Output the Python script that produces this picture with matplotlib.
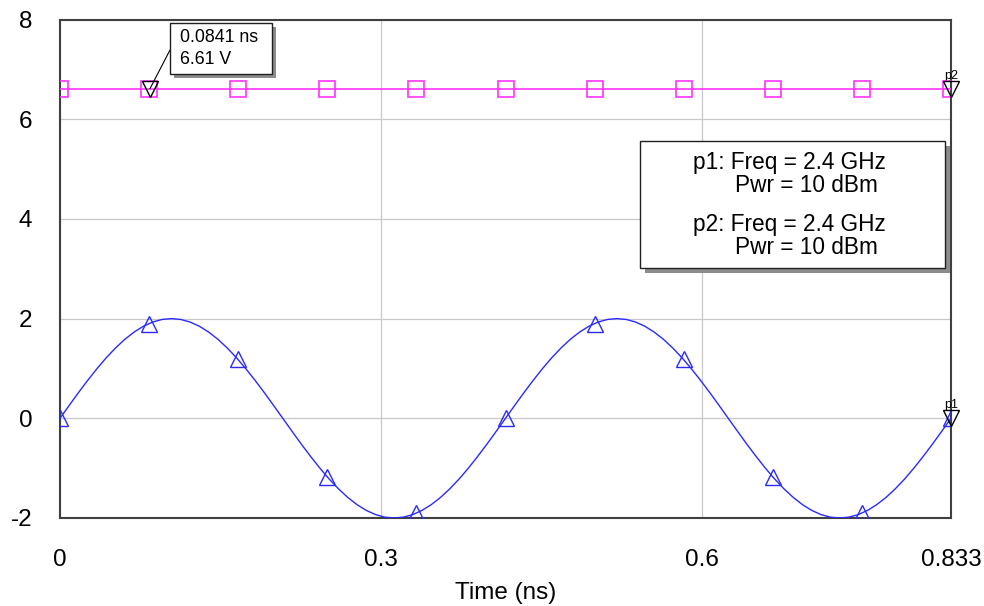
import matplotlib
matplotlib.use("Agg")
import matplotlib.pyplot as plt
from matplotlib.patches import Rectangle
import numpy as np

plt.rcParams['font.family'] = ['Liberation Sans', 'DejaVu Sans']
plt.rcParams['axes.unicode_minus'] = False

# trace p1: port voltage, 97 samples over 0..0.8333 ns
p1_v = [0, 0.261, 0.518, 0.765, 1.0, 1.218, 1.414, 1.587, 1.732, 1.848, 1.932, 1.983,
        2.0, 1.983, 1.932, 1.848, 1.732, 1.587, 1.414, 1.218, 1.0, 0.765, 0.518, 0.261,
        0, -0.261, -0.518, -0.765, -1.0, -1.218, -1.414, -1.587, -1.732, -1.848, -1.932, -1.983,
        -2.0, -1.983, -1.932, -1.848, -1.732, -1.587, -1.414, -1.218, -1.0, -0.765, -0.518, -0.261,
        0, 0.261, 0.518, 0.765, 1.0, 1.218, 1.414, 1.587, 1.732, 1.848, 1.932, 1.983,
        2.0, 1.983, 1.932, 1.848, 1.732, 1.587, 1.414, 1.218, 1.0, 0.765, 0.518, 0.261,
        0, -0.261, -0.518, -0.765, -1.0, -1.218, -1.414, -1.587, -1.732, -1.848, -1.932, -1.983,
        -2.0, -1.983, -1.932, -1.848, -1.732, -1.587, -1.414, -1.218, -1.0, -0.765, -0.518, -0.261,
        0]
t_trace = np.linspace(0, 0.8333, len(p1_v))

# symbol positions on the traces
mark_t = [0, 0.0833, 0.1667, 0.25, 0.3333, 0.4167, 0.5, 0.5833, 0.6667, 0.75, 0.8333]
p1_mark = [0, 1.90, 1.18, -1.18, -1.90, 0, 1.90, 1.18, -1.18, -1.90, 0]
p2_level = 6.61
p2_mark = [p2_level] * len(mark_t)

# marker readout
m1_t, m1_v = 0.0841, 6.61
end_t = 0.8333

fig = plt.figure(figsize=(9.84, 6.06), dpi=100)
ax = fig.add_axes([60/984, 88/606, 891/984, 498.5/606])

blue = '#2a2aff'
mag = '#ff33ff'

ax.plot(t_trace, p1_v, color=blue, lw=1.0, zorder=3)
ax.plot(mark_t, p1_mark, ls='none', marker='^', ms=11, mfc='none', mec=blue, mew=1.0, zorder=4)
ax.plot([0, end_t], [p2_level, p2_level], color=mag, lw=1.2, zorder=3)
ax.plot(mark_t, p2_mark, ls='none', marker='s', ms=11.5, mfc='none', mec=mag, mew=1.2, zorder=4)

# markers (inverted triangles)
ax.plot([m1_t], [m1_v], ls='none', marker='v', ms=11, mfc='none', mec='black', mew=1.0, zorder=6)
ax.plot([end_t, end_t], [p2_level, 0], ls='none', marker='v', ms=11, mfc='none', mec='black',
        mew=1.0, zorder=6, clip_on=False)
ax.annotate('p2', (end_t, p2_level), xytext=(0, 5), textcoords='offset points',
            ha='center', va='bottom', fontsize=9, annotation_clip=False)
ax.annotate('p1', (end_t, 0), xytext=(0, 5), textcoords='offset points',
            ha='center', va='bottom', fontsize=9, annotation_clip=False)

ax.set_xlim(0, end_t)
ax.set_ylim(-2, 8)
ax.set_xticks([0, 0.3, 0.6, end_t])
ax.set_xticklabels(['0', '0.3', '0.6', '0.833'])
ax.set_yticks([-2, 0, 2, 4, 6, 8])
ax.tick_params(axis='x', length=0, pad=22.5, labelsize=17.5)
ax.tick_params(axis='y', length=0, pad=20, labelsize=17.5)
ax.grid(True, color='#c8c8c8', lw=0.9)
ax.set_axisbelow(True)
for s in ax.spines.values():
    s.set_color('#404040')
    s.set_linewidth(1.5)
ax.set_xlabel('Time (ns)', fontsize=17.5, labelpad=8)

H = 606

def px_box(x0, y0, x1, y1, shadow=5):
    # box given in image pixel coordinates (top-left origin)
    fig.patches.append(Rectangle(((x0 + shadow) / 984, (H - y1 - shadow) / H),
                                 (x1 - x0) / 984, (y1 - y0) / H, transform=fig.transFigure,
                                 facecolor='#8c8c8c', edgecolor='none', zorder=10))
    fig.patches.append(Rectangle((x0 / 984, (H - y1) / H), (x1 - x0) / 984, (y1 - y0) / H,
                                 transform=fig.transFigure, facecolor='white',
                                 edgecolor='#202020', lw=1.0, zorder=11))

def px_text(x, y, s, size):
    fig.text(x / 984, (H - y) / H, s, va='center', ha='left', fontsize=size, zorder=12)

# marker readout callout
ax.annotate('', xy=(m1_t, m1_v), xytext=(170 / 984, (H - 50) / H), textcoords='figure fraction',
            arrowprops=dict(arrowstyle='-', color='black', lw=0.8, shrinkA=0, shrinkB=0),
            zorder=7, annotation_clip=False)
px_box(170, 23, 272, 74, shadow=4)
px_text(180, 37, '0.0841 ns', 12.8)
px_text(180, 60, '6.61 V', 12.8)

# source info box
px_box(640, 141, 945, 268, shadow=5)
px_text(693, 162, 'p1: Freq = 2.4 GHz', 16.3)
px_text(735, 185, 'Pwr = 10 dBm', 16.3)
px_text(693, 225, 'p2: Freq = 2.4 GHz', 16.3)
px_text(735, 248, 'Pwr = 10 dBm', 16.3)

fig.savefig('out.png', dpi=100)
